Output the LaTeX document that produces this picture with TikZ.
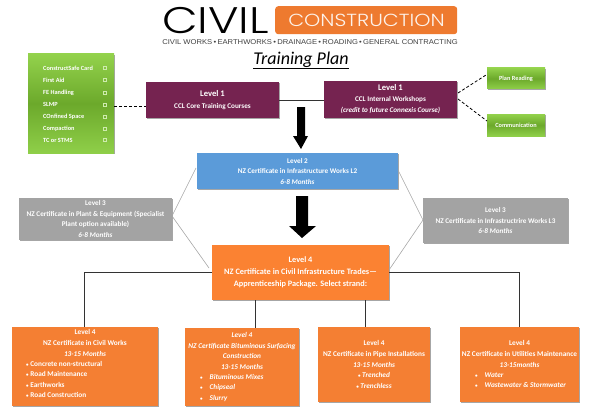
\documentclass[tikz,border=0pt]{standalone}
\usepackage{fontspec}
\setmainfont{Carlito}
\newfontfamily\logofont{Liberation Sans}
\newfontfamily\civilfont{Poppins Light}
\usetikzlibrary{shadows,calc}
\definecolor{plum}{HTML}{752350}
\definecolor{skyb}{HTML}{5B9BD9}
\definecolor{greyb}{HTML}{A3A3A3}
\definecolor{orng}{HTML}{F47F33}
\definecolor{orngb}{HTML}{FB8232}
\definecolor{logoo}{HTML}{EE7A2F}
\definecolor{gtop}{HTML}{93D24C}
\definecolor{gmid}{HTML}{6CA92B}
\definecolor{gbot}{HTML}{8FCF49}
\tikzset{
  x=1pt,y=-1pt,
  softshadow/.style={drop shadow={shadow xshift=0.8pt,shadow yshift=-0.9pt,fill=black,opacity=.35}},
  card/.style={rectangle,inner sep=0pt,outer sep=0pt,align=center,text=white,font=\fontsize{7.2}{10.5}\selectfont\bfseries,softshadow},
  box/.style n args={5}{card,fill=#5,minimum width={(#3-#1)*1pt},minimum height={(#4-#2)*1pt},anchor=north west,at={(#1,#2)}},
  greenbox/.style={top color=gtop,bottom color=gbot,middle color=gmid},
  thick link/.style={draw=black!80,line width=0.9pt},
  grey link/.style={draw=black!35,line width=0.6pt},
  dash link/.style={draw=black,line width=0.8pt,dash pattern=on 3pt off 2pt},
  fat arrow/.style={fill=black,draw=none},
  itemlab/.style={text=white,font=\fontsize{6.3}{7}\selectfont\bfseries,anchor=west,inner sep=0pt},
  tickbox/.style={draw=white!55!gtop,line width=0.3pt,minimum size=3.2pt,inner sep=0pt,rectangle},
  boldtxt/.style={text=white,align=center,inner sep=0pt,font=\fontsize{7.3}{10.6}\selectfont\bfseries},
  itatxt/.style={text=white,align=center,inner sep=0pt,font=\fontsize{7.3}{10.6}\selectfont\bfseries\itshape},
}
\begin{document}
\begin{tikzpicture}
\useasboundingbox (0,0) rectangle (600,412);
% logo
\node[inner sep=0pt,anchor=west,xscale=1.25,text height=26pt,text depth=0pt] (civil) at (162,21) {\civilfont\fontsize{37}{37}\selectfont CIVIL};
\node[fill=logoo,rounded corners=3pt,minimum width=182pt,minimum height=28pt,inner sep=0pt,anchor=north west] (brand) at (275,6) {};
\node[text=white!90!logoo,inner sep=0pt,xscale=1.18,font=\civilfont\fontsize{17.5}{17.5}\selectfont] (brandt) at (366.5,20) {CONSTRUCTION};
\node[inner sep=0pt,text=black!75,xscale=1.09,font=\logofont\fontsize{7}{7}\selectfont] (tag) at (310,42.5) {CIVIL WORKS\,\textbullet\,EARTHWORKS\,\textbullet\,DRAINAGE\,\textbullet\,ROADING\,\textbullet\,GENERAL CONTRACTING};
\node[inner sep=0pt,font=\fontsize{18}{18}\selectfont\itshape] (title) at (301,60.5) {\underline{Training Plan}};
% level 1
\node[box={146}{82}{279}{118}{plum},font=\fontsize{7.2}{11.5}\selectfont\bfseries] (core) {{\fontsize{8.6}{11.5}\selectfont Level 1}\\CCL Core Training Courses};
\node[box={324}{81}{457}{118}{plum},font=\fontsize{7.2}{11}\selectfont\bfseries] (work) {{\fontsize{8.6}{11}\selectfont Level 1}\\CCL Internal Workshops\\\itshape (credit to future Connexis Course)};
% green
\node[box={28}{54}{114}{153}{gmid},greenbox] (list) {};
\foreach \n/\t/\y in {a/ConstructSafe Card/68,b/First Aid/80,c/FE Handling/92.5,d/SLMP/104.5,e/COnfined Space/116.5,f/Compaction/128.5,g/TC or STMS/140}{
  \node[itemlab] (lab\n) at (43,\y) {\t};
  \node[tickbox] (tick\n) at (104.5,\y) {};
}
\node[box={487}{68}{545}{89}{gmid},greenbox,font=\fontsize{6.3}{7}\selectfont\bfseries] (plan) {Plan Reading};
\node[box={487}{114}{545}{136}{gmid},greenbox,font=\fontsize{6.3}{7}\selectfont\bfseries] (comm) {Communication};
% level 2-4
\node[box={197}{153}{398}{189}{skyb}] (l2) {Level 2\\NZ Certificate in Infrastructure Works L2\\\itshape 6-8 Months};
\node[box={19}{198}{172}{240}{greyb}] (g1) {Level 3\\NZ Certificate in Plant \& Equipment (Specialist\\Plant option available)\\\itshape 6-8 Months};
\node[box={423}{198}{568}{243}{greyb}] (g2) {Level 3\\NZ Certificate in Infrastructrire Works L3\\\itshape 6-8 Months};
\node[box={212}{245}{389}{300}{orngb},font=\fontsize{8.3}{12}\selectfont\bfseries] (l4) {Level 4\\NZ Certificate in Civil Infrastructure Trades---\\Apprenticeship Package. Select strand:};
% bottom
\node[box={12}{327}{158}{406}{orng}] (sa) {};
\node[boldtxt] (sat) at (85,343) {Level 4\\NZ Certificate in Civil Works\\\itshape 13-15 Months};
\node[boldtxt,align=left] (sal) at (26,379.5) [anchor=west] {{\tiny\textbullet}\ Concrete non-structural\\{\tiny\textbullet}\ Road Maintenance\\{\tiny\textbullet}\ Earthworks\\{\tiny\textbullet}\ Road Construction};
\node[box={185}{328}{299}{406}{orng}] (sb) {};
\node[itatxt] (sbt) at (242,351) {Level 4\\NZ Certificate Bituminous Surfacing\\Construction\\13-15 Months};
\node[itatxt,align=left,anchor=west] (sbl) at (200,388) {{\tiny\textbullet}\hspace{7pt}Bituminous Mixes\\{\tiny\textbullet}\hspace{7pt}Chipseal\\{\tiny\textbullet}\hspace{7pt}Slurry};
\node[box={318}{327}{430}{402}{orng},font=\fontsize{7.3}{10.6}\selectfont\bfseries] (sc) {Level 4\\NZ Certificate in Pipe Installations\\\itshape 13-15 Months\\\itshape{\tiny\textbullet}\ Trenched\\\itshape{\tiny\textbullet}\ Trenchless};
\node[box={460}{327}{579}{402}{orng}] (sd) {};
\node[boldtxt] (sdt) at (519.5,354) {Level 4\\NZ Certificate in Utilities Maintenance\\\itshape 13-15months};
\node[itatxt,align=left,anchor=west] (sdl) at (475,380) {{\tiny\textbullet}\hspace{7pt}Water\\{\tiny\textbullet}\hspace{7pt}Wastewater \& Stormwater};
% connectors
\coordinate (listout) at (114,106);
\coordinate (corein) at (146,106);
\coordinate (wa) at (458,93);
\coordinate (wb) at (458,99);
\coordinate (pa) at (486,75);
\coordinate (ca) at (487,121);
\draw[thick link] (core.east) -- (work.west |- core.east);
\draw[dash link] (listout) -- (corein);
\draw[dash link] (wa) -- (pa);
\draw[dash link] (wb) -- (ca);
\coordinate (gl) at (172,216);
\coordinate (blueL) at (196,168);
\coordinate (orL) at (209,268);
\draw[grey link] (gl) -- (blueL);
\draw[grey link] (gl) -- (orL);
\coordinate (gr) at (423,220);
\coordinate (blueR) at (398,170);
\coordinate (orR) at (389,270);
\draw[grey link] (gr) -- (blueR);
\draw[grey link] (gr) -- (orR);
\coordinate (la) at (212,272.5);
\coordinate (lb) at (389,272.5);
\coordinate (ta) at (84.5,327);
\coordinate (td) at (519.5,327);
\draw[thick link] (la) -| (ta);
\draw[thick link] (lb) -| (td);
\coordinate (ob) at (255.5,300);
\coordinate (oc) at (365.5,300);
\draw[thick link] (ob) -- (ob |- sb.north);
\draw[thick link] (oc) -- (oc |- sc.north);
% fat arrows
\fill[fat arrow] (297,107) -- (305,107) -- (305,136) -- (308,136) -- (301,149) -- (293,136) -- (297,136) -- cycle;
\fill[fat arrow] (296,196) -- (308,196) -- (308,226) -- (316,226) -- (302,238) -- (289,226) -- (296,226) -- cycle;
\end{tikzpicture}
\end{document}
